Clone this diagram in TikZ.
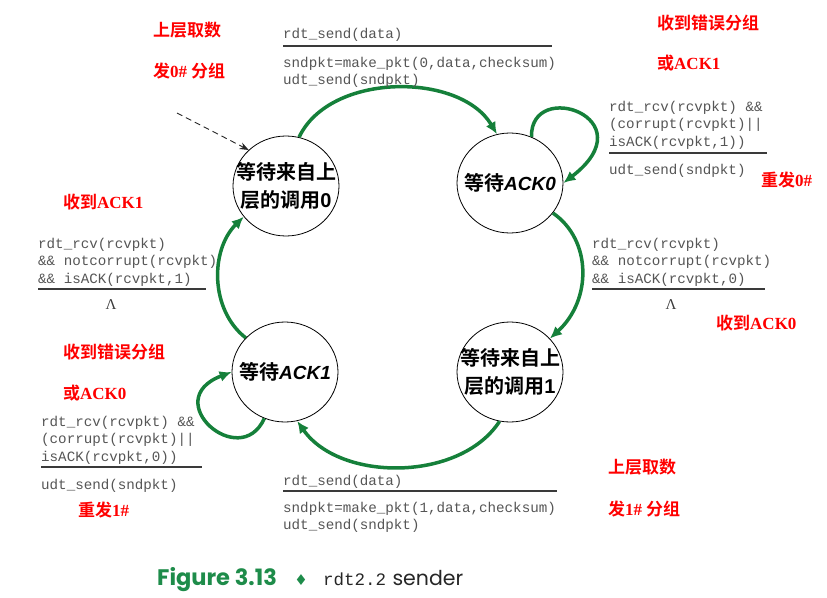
\documentclass[tikz,border=0pt]{standalone}
\usepackage{fontspec}
\usepackage{amsmath}
\usetikzlibrary{arrows.meta,positioning,shapes.geometric}
\newfontfamily\cjkfont{Noto Sans CJK SC}[BoldFont={Noto Sans CJK SC Bold}]
\newfontfamily\codefont{Liberation Mono}
\newfontfamily\ackfont{Liberation Sans}
\newfontfamily\redlatin{Liberation Serif}
\newfontfamily\capfont{Poppins}
\newfontfamily\symfont{DejaVu Sans}
\definecolor{arcgreen}{HTML}{15803A}
\definecolor{codegray}{HTML}{555555}
\definecolor{rulegray}{HTML}{3A3A3A}
\definecolor{notered}{HTML}{FF0000}
\definecolor{figgreen}{HTML}{1E8C4A}
\newcommand{\acktxt}[1]{{\ackfont\bfseries\itshape\fontsize{19}{28}\selectfont #1}}
\newcommand{\numtxt}[1]{{\ackfont\bfseries\fontsize{20}{28}\selectfont #1}}
\newcommand{\latxt}[1]{{\redlatin\bfseries #1}}
\tikzset{
  fsmstate/.style={ellipse,draw=black,fill=white,line width=0.8pt,
                   minimum width=106pt,minimum height=100pt,
                   inner xsep=-14pt,inner ysep=0pt,
                   align=center,font=\cjkfont\bfseries\fontsize{20}{28}\selectfont},
  codetext/.style={inner sep=0pt,align=left,text=codegray,
                   font=\codefont\fontsize{14.2}{17.5}\selectfont},
  rulebar/.style={draw=rulegray,line width=1.3pt},
  lambdatext/.style={inner sep=0pt,text=rulegray,font=\redlatin\fontsize{15}{15}\selectfont},
  redlabel/.style={inner sep=0pt,anchor=west,text=notered,
                   font=\cjkfont\bfseries\fontsize{17}{20}\selectfont},
  transarr/.style={draw=arcgreen,line width=3.5pt,-{Latex[length=12pt,width=11pt]}},
  initarr/.style={draw=black!85,line width=0.9pt,dash pattern=on 6pt off 4pt,
                  -{Stealth[length=9pt,width=7pt]}}
}
\begin{document}
\begin{tikzpicture}[x=1pt,y=-1pt]
  \useasboundingbox (0,0) rectangle (827,597);
  \node[fsmstate] (w0) at (286,186) {等待来自上\\层的调用\numtxt{0}};
  \node[fsmstate] (a0) at (510,183) {等待\acktxt{ACK0}};
  \node[fsmstate] (a1) at (285,372) {等待\acktxt{ACK1}};
  \node[fsmstate] (w1) at (510,372) {等待来自上\\层的调用\numtxt{1}};
  \coordinate (init) at (177,113);
  \draw[initarr] (init) -- (w0.136);
  \draw[transarr] (w0.75) .. controls (330,72) and (460,72) .. (a0.105);
  \draw[transarr] (a0.65) .. controls (530,78) and (648,118) .. (a0.0);
  \draw[transarr] (a0.-35) .. controls (592,240) and (592,300) .. (w1.40);
  \draw[transarr] (w1.258) .. controls (460,482) and (340,482) .. (a1.284);
  \draw[transarr] (a1.246) .. controls (240,472) and (158,400) .. (a1.180);
  \draw[transarr] (a1.139) .. controls (210,310) and (210,250) .. (w0.216);
  % labels of the transitions
  \node[codetext,anchor=base west] (topev) at (283,38) {rdt\_send(data)};
  \draw[rulebar] (283,46) -- (552,46);
  \node[codetext,anchor=north west] (topact) at (283,54.75)
    {\strut sndpkt=make\_pkt(0,data,checksum)\\udt\_send(sndpkt)};
  \node[codetext,anchor=north west] (rtcond) at (609,98.75)
    {\strut rdt\_rcv(rcvpkt) \&\&\\(corrupt(rcvpkt)||\\isACK(rcvpkt,1))};
  \draw[rulebar] (609,153) -- (767,153);
  \node[codetext,anchor=base west] (rtact) at (609,174) {udt\_send(sndpkt)};
  \node[codetext,anchor=north west] (rmcond) at (592,235.75)
    {\strut rdt\_rcv(rcvpkt)\\\&\& notcorrupt(rcvpkt)\\\&\& isACK(rcvpkt,0)};
  \draw[rulebar] (592,289) -- (765,289);
  \node[lambdatext] (rmact) at (671,305) {Λ};
  \node[codetext,anchor=north west] (lmcond) at (38,235.75)
    {\strut rdt\_rcv(rcvpkt)\\\&\& notcorrupt(rcvpkt)\\\&\& isACK(rcvpkt,1)};
  \draw[rulebar] (38,289) -- (206,289);
  \node[lambdatext] (lmact) at (111,305) {Λ};
  \node[codetext,anchor=north west] (lbcond) at (41,413.75)
    {\strut rdt\_rcv(rcvpkt) \&\&\\(corrupt(rcvpkt)||\\isACK(rcvpkt,0))};
  \draw[rulebar] (41,467) -- (202,467);
  \node[codetext,anchor=base west] (lbact) at (41,489) {udt\_send(sndpkt)};
  \node[codetext,anchor=base west] (btev) at (283,485) {rdt\_send(data)};
  \draw[rulebar] (283,491) -- (557,491);
  \node[codetext,anchor=north west] (btact) at (283,499.75)
    {\strut sndpkt=make\_pkt(1,data,checksum)\\udt\_send(sndpkt)};
  % red notes
  \node[redlabel] (n1) at (153,30) {上层取数};
  \node[redlabel] (n2) at (153,71) {发\latxt{0\#} 分组};
  \node[redlabel] (n3) at (657,23) {收到错误分组};
  \node[redlabel] (n4) at (657,63) {或\latxt{ACK1}};
  \node[redlabel] (n5) at (761,180) {重发\latxt{0\#}};
  \node[redlabel] (n6) at (63,202) {收到\latxt{ACK1}};
  \node[redlabel] (n7) at (716,323) {收到\latxt{ACK0}};
  \node[redlabel] (n8) at (63,352) {收到错误分组};
  \node[redlabel] (n9) at (63,393) {或\latxt{ACK0}};
  \node[redlabel] (n10) at (78,510) {重发\latxt{1\#}};
  \node[redlabel] (n11) at (608,467) {上层取数};
  \node[redlabel] (n12) at (608,509) {发\latxt{1\#} 分组};
  % caption
  \node[anchor=base west,inner sep=0pt,text=figgreen,
        font=\capfont\bfseries\fontsize{22.5}{22.5}\selectfont] (fig) at (157,585) {Figure 3.13};
  \node[base right=17pt of fig,inner sep=0pt,text=figgreen,
        font=\symfont\fontsize{15}{15}\selectfont] (dia) {♦};
  \node[base right=15pt of dia,inner sep=0pt,text=black!85,
        font=\codefont\fontsize{17.5}{17.5}\selectfont] (capcode) {rdt2.2};
  \node[base right=6pt of capcode,inner sep=0pt,text=black!85,
        font=\capfont\fontsize{20.5}{20.5}\selectfont] (capword) {sender};
\end{tikzpicture}
\end{document}
